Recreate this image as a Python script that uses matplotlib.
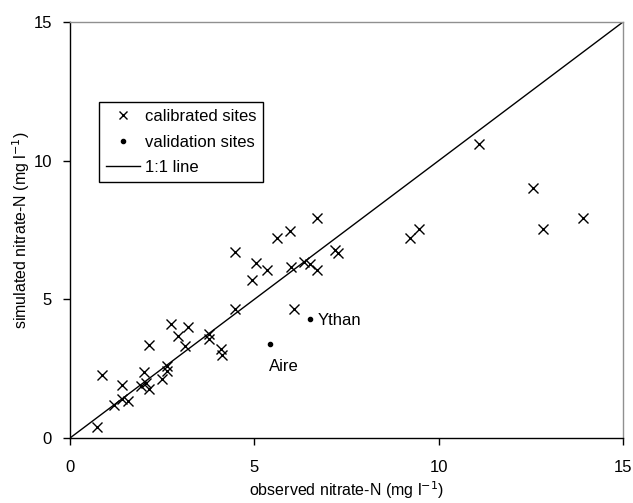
import matplotlib
matplotlib.use("Agg")
import matplotlib.pyplot as plt
from matplotlib.lines import Line2D

plt.rcParams['font.family'] = ['Liberation Sans', 'DejaVu Sans']

cal_obs = [0.74, 0.87, 1.18, 1.41, 1.42, 1.58, 1.92, 2.01, 2.07, 2.15, 2.13, 2.49,
           2.62, 2.63, 2.73, 2.92, 3.12, 3.21, 3.77, 3.77, 4.09, 4.12, 4.47, 4.48,
           4.94, 5.05, 5.35, 5.62, 5.97, 6.00, 6.08, 6.36, 6.50, 6.69, 6.69, 7.19,
           7.27, 9.22, 9.47, 11.09, 12.57, 12.82, 13.92]
cal_sim = [0.38, 2.27, 1.20, 1.91, 1.41, 1.34, 1.88, 2.39, 1.99, 1.77, 3.36, 2.12,
           2.61, 2.40, 4.10, 3.69, 3.30, 4.00, 3.75, 3.56, 3.22, 3.00, 6.70, 4.64,
           5.68, 6.32, 6.06, 7.21, 7.45, 6.17, 4.65, 6.33, 6.27, 6.06, 7.92, 6.79,
           6.66, 7.22, 7.54, 10.6, 9.0, 7.53, 7.95]
val_names = ["Aire", "Ythan"]
val_obs = [5.42, 6.51]
val_sim = [3.38, 4.29]
line_x = [0, 15]
ticks = [0, 5, 10, 15]

fig = plt.figure(figsize=(6.33, 5.03), dpi=100)
ax = fig.add_axes([70/633, 65/503, 553/633, 416/503])

ax.plot(line_x, line_x, color='black', lw=1.0, zorder=2)
ax.plot(cal_obs, cal_sim, linestyle='none', marker='x', color='black',
        markersize=6.5, markeredgewidth=1.0, zorder=3)
ax.plot(val_obs, val_sim, linestyle='none', marker='o', color='black',
        markersize=3, zorder=3)

ax.text(val_obs[0] - 0.02, val_sim[0] - 0.8, val_names[0], fontsize=12,
        ha='left', va='center')
ax.text(val_obs[1] + 0.22, val_sim[1] - 0.05, val_names[1], fontsize=12,
        ha='left', va='center')

ax.set_xlim(0, 15)
ax.set_ylim(0, 15)
ax.set_xticks(ticks)
ax.set_yticks(ticks)
ax.tick_params(direction='out', length=5, width=1, labelsize=12, color='black')
ax.tick_params(axis='x', pad=11)
ax.tick_params(axis='y', pad=8)
for s in ['left', 'bottom']:
    ax.spines[s].set_color('black')
    ax.spines[s].set_linewidth(1.0)
for s in ['top', 'right']:
    ax.spines[s].set_color('#909090')
    ax.spines[s].set_linewidth(1.0)

ax.set_xlabel('observed nitrate-N (mg l$^{-1}$)', fontsize=11.5, labelpad=3)
ax.set_ylabel('simulated nitrate-N (mg l$^{-1}$)', fontsize=11.5, labelpad=1)

handles = [
    Line2D([], [], linestyle='none', marker='x', color='black', markersize=6, markeredgewidth=1.0),
    Line2D([], [], linestyle='none', marker='o', color='black', markersize=3),
    Line2D([], [], color='black', lw=1.0),
]
leg = ax.legend(handles, ['calibrated sites', 'validation sites', '1:1 line'],
                loc='upper left', bbox_to_anchor=(0.053, 0.807), borderaxespad=0,
                fancybox=False, edgecolor='black', framealpha=1, fontsize=12,
                handlelength=2.05, handletextpad=0.25, labelspacing=0.62,
                borderpad=0.42)
leg.get_frame().set_linewidth(1.0)

fig.savefig('out.png', dpi=100)
